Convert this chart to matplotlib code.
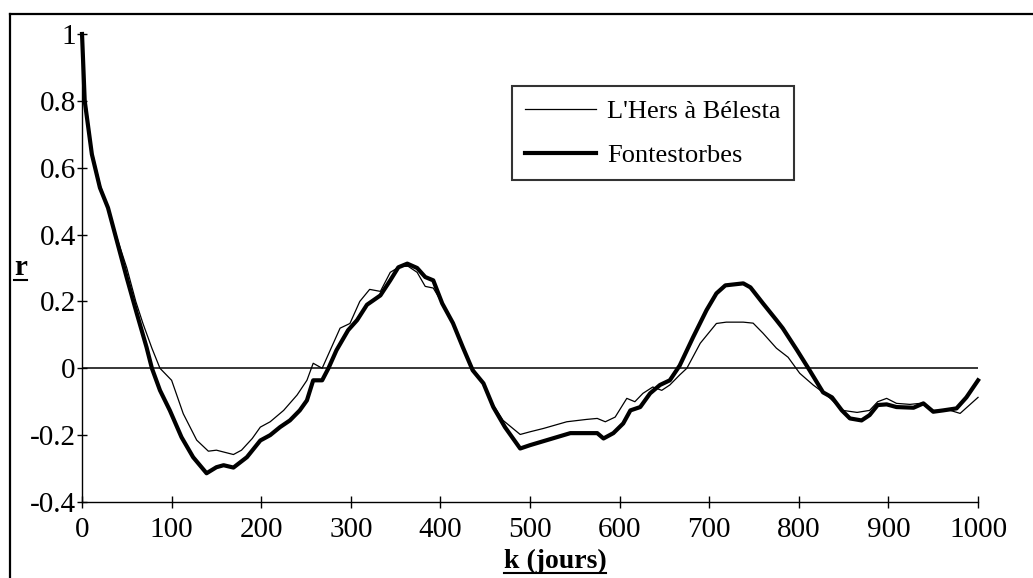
import numpy as np
import matplotlib
matplotlib.use('Agg')
import matplotlib.pyplot as plt
from matplotlib.lines import Line2D

plt.rcParams['font.family'] = ['Liberation Serif', 'DejaVu Serif']

# lag k (days) and autocorrelation r
k_hers = [0, 3, 11, 20, 29, 39, 50, 60, 68, 78, 87, 100, 113, 128, 141, 150,
          169, 178, 190, 199, 210, 225, 240, 251, 258, 268, 277, 288, 299, 310,
          321, 333, 344, 355, 364, 374, 383, 392, 402, 414, 425, 436, 448, 459,
          470, 489, 500, 515, 541, 563, 575, 584, 595, 608, 617, 626, 637, 647,
          656, 667, 675, 690, 708, 719, 738, 749, 760, 775, 788, 801, 816, 831,
          849, 865, 879, 888, 898, 909, 924, 939, 950, 969, 980, 1000]
r_hers = [1.0, 0.82, 0.65, 0.55, 0.48, 0.39, 0.30, 0.20, 0.134, 0.06, 0.0,
          -0.036, -0.136, -0.215, -0.248, -0.245, -0.258, -0.245, -0.21, -0.176,
          -0.16, -0.126, -0.08, -0.036, 0.015, 0.0, 0.054, 0.12, 0.134, 0.2,
          0.236, 0.23, 0.287, 0.305, 0.305, 0.287, 0.245, 0.24, 0.195, 0.135,
          0.065, 0.0, -0.045, -0.11, -0.156, -0.198, -0.19, -0.18, -0.16,
          -0.153, -0.15, -0.16, -0.146, -0.09, -0.1, -0.075, -0.056, -0.066,
          -0.05, -0.02, 0.0, 0.075, 0.134, 0.138, 0.138, 0.135, 0.105, 0.06,
          0.033, -0.015, -0.05, -0.08, -0.126, -0.132, -0.126, -0.1, -0.09,
          -0.105, -0.108, -0.104, -0.126, -0.126, -0.135, -0.087]

k_font = [0, 3, 11, 20, 29, 39, 50, 61, 72, 78, 87, 98, 111, 124, 139, 150,
          158, 169, 184, 199, 210, 221, 232, 243, 251, 258, 268, 275, 284, 297,
          307, 318, 333, 344, 353, 363, 374, 383, 392, 402, 414, 425, 436, 448,
          459, 472, 489, 500, 515, 530, 545, 560, 575, 582, 593, 604, 612, 623,
          634, 645, 656, 667, 682, 697, 708, 718, 738, 746, 760, 775, 782, 798,
          812, 827, 837, 848, 857, 870, 879, 888, 898, 909, 928, 939, 950, 961,
          976, 987, 1000]
r_font = [1.0, 0.80, 0.64, 0.54, 0.48, 0.38, 0.27, 0.165, 0.063, 0.0, -0.066,
          -0.126, -0.206, -0.266, -0.314, -0.296, -0.29, -0.297, -0.266, -0.216,
          -0.2, -0.176, -0.156, -0.126, -0.096, -0.036, -0.036, 0.0, 0.054,
          0.114, 0.144, 0.19, 0.218, 0.263, 0.302, 0.313, 0.3, 0.273, 0.263,
          0.194, 0.135, 0.063, -0.006, -0.045, -0.116, -0.176, -0.24, -0.23,
          -0.218, -0.206, -0.194, -0.194, -0.194, -0.21, -0.194, -0.165,
          -0.126, -0.116, -0.075, -0.05, -0.036, 0.008, 0.093, 0.174, 0.224,
          0.248, 0.254, 0.242, 0.194, 0.144, 0.12, 0.054, -0.006, -0.072,
          -0.087, -0.126, -0.15, -0.156, -0.14, -0.11, -0.108, -0.116, -0.118,
          -0.105, -0.13, -0.126, -0.12, -0.087, -0.036]

x_ticks = list(range(0, 1001, 100))
y_ticks = [-0.4, -0.2, 0, 0.2, 0.4, 0.6, 0.8, 1]

fig = plt.figure(figsize=(10.33, 5.78), dpi=100)
ax = fig.add_axes([0.0794, 0.1315, 0.8674, 0.8097])

ax.axhline(0, color='black', lw=1.1, zorder=1)
ax.plot(k_hers, r_hers, color='black', lw=0.9, label="L'Hers à Bélesta", clip_on=False)
ax.plot(k_font, r_font, color='black', lw=3.0, label='Fontestorbes', clip_on=False)

ax.set_xlim(0, 1000)
ax.set_ylim(-0.4, 1)
ax.set_xticks(x_ticks)
ax.set_yticks(y_ticks)
ax.set_yticklabels(['{:g}'.format(v) for v in y_ticks])
for s in ['top', 'right']:
    ax.spines[s].set_visible(False)
for s in ['left', 'bottom']:
    ax.spines[s].set_linewidth(1.0)
ax.tick_params(axis='x', direction='inout', length=9, width=1, labelsize=21, pad=6)
ax.tick_params(axis='y', direction='inout', length=7, width=1, labelsize=21, pad=1)

ax.set_xlabel('k (jours)', fontsize=20, fontweight='bold', va='center')
ax.xaxis.set_label_coords(0.528, -0.126)
ax.set_ylabel('r', fontsize=21, fontweight='bold', rotation=0, va='center')
ax.yaxis.set_label_coords(-0.069, 0.5)

leg = ax.legend(loc='upper left', bbox_to_anchor=(0.4956, 0.851),
                bbox_transform=fig.transFigure, fontsize=19, frameon=True,
                fancybox=False, edgecolor='black', handlelength=2.7,
                handletextpad=0.4, borderpad=0.5, labelspacing=0.78,
                borderaxespad=0)
leg.get_frame().set_linewidth(1.5)

# outer frame (cropped on the right and bottom)
fig.add_artist(Line2D([0.0097, 1.0], [0.976, 0.976], color='black', lw=1.6,
                      transform=fig.transFigure))
fig.add_artist(Line2D([0.0097, 0.0097], [0.0, 0.976], color='black', lw=1.6,
                      transform=fig.transFigure))

# underline the axis labels
fig.canvas.draw()
W, H = fig.bbox.width, fig.bbox.height
for lab in [ax.xaxis.label, ax.yaxis.label]:
    bb = lab.get_window_extent()
    yy = (bb.y0 + 1) / H
    fig.add_artist(Line2D([bb.x0 / W, bb.x1 / W], [yy, yy], color='black',
                          lw=1.5, transform=fig.transFigure))

fig.savefig('out.png', dpi=100, facecolor='white')
